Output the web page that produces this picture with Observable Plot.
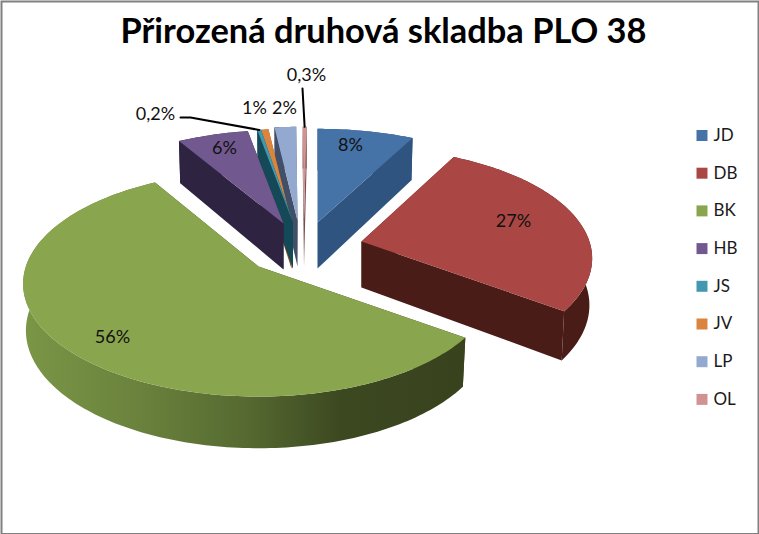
<!DOCTYPE html>
<html><head><meta charset="utf-8">
<script src="https://cdn.jsdelivr.net/npm/d3@7"></script>
<script src="https://cdn.jsdelivr.net/npm/@observablehq/plot@0.6"></script>
<style>html,body{margin:0;padding:0;background:#fff}svg{display:block}</style>
</head><body><div id="chart"></div>
<script>
// Data
const chartTitle = "Přirozená druhová skladba PLO 38";
const species = ["JD","DB","BK","HB","JS","JV","LP","OL"];
const shares = [7.6,27.4,56.6,5.6,0.3,0.7,1.7,0.3];
const shareLabels = ["8%","27%","56%","6%","0,2%","1%","2%","0,3%"];

// Styles
const topColors = ["#4572A7","#AA4643","#89A54E","#71588F","#4198AF","#DB843D","#93A9CF","#D19392"];
const wallColors = ["#2f5480","#4a1c18","#38431e","#2e2340","#144a57","#8a4e1f","#414f68","#7a4c4c"];

// Layout: where each exploded slice's tip sits, and how the disc is projected
const tipX = [317,361,258,283,292.5,291,297,303.5];
const tipY = [222,241,266,223,222,222,220,220];
const stretchX = [1,0.97,0.99,1,1,1,1,1];
const stretchY = [1,1,1.02,1,1,1,1,1];
const labelDx = [33,152,-146,-59,-137.5,-37,-13,2.5];
const labelDy = [-77,-20,71,-75,-108,-114,-112,-145];
const RX = 235, RY = 108, PERSP = 0.153, DEPTH = 46;
const drawOrder = [7,6,5,4,3,0,1,2];

let cum = 0;
const slices = species.map((name,i)=>{
  const a0 = cum/100*2*Math.PI; cum += shares[i];
  const a1 = cum/100*2*Math.PI;
  return {name,i,a0,a1,mid:(a0+a1)/2,ax:tipX[i],ay:tipY[i],sx:stretchX[i],sy:stretchY[i]};
});
function project(s,theta,r,z){
  const Y = r*Math.cos(theta), X = r*Math.sin(theta);
  const k = 1/(1+PERSP*Y);
  return {x:s.ax+s.sx*RX*X*k*(1-0.012*z), y:s.ay-s.sy*RY*Y*k+DEPTH*z*Math.pow(k,0.7)};
}
function arc(s,z){
  const n = Math.max(2,Math.ceil((s.a1-s.a0)/0.02));
  return d3.range(n+1).map(j=>project(s,s.a0+(s.a1-s.a0)*j/n,1,z));
}
const poly = (pts,fill)=>Plot.line(pts,{x:"x",y:"y",fill,stroke:"none",curve:"linear-closed"});

const gradient = () => {
  const ns="http://www.w3.org/2000/svg";
  const defs=document.createElementNS(ns,"defs");
  const g=document.createElementNS(ns,"linearGradient");
  g.setAttribute("id","rimBK");
  [[0,"#7a9646"],[.25,"#6b833d"],[.5,"#566a31"],[.72,"#3c4820"],[1,"#38431e"]].forEach(([o,c])=>{
    const st=document.createElementNS(ns,"stop");
    st.setAttribute("offset",o);st.setAttribute("stop-color",c);g.appendChild(st);
  });
  defs.appendChild(g);return defs;
};

const sliceMarks = drawOrder.flatMap(i=>{
  const s=slices[i], wall=wallColors[i];
  const t=arc(s,0), b=arc(s,1);
  const tip0=project(s,0,0,0), tip1=project(s,0,0,1);
  return [
    poly([tip0,t[0],b[0],tip1],wall),
    poly([tip0,t[t.length-1],b[b.length-1],tip1],wall),
    poly([...t,...b.slice().reverse()],i===2?"url(#rimBK)":wall),
    poly([tip0,...t],topColors[i])
  ];
});

const labels = slices.map((s,i)=>({text:shareLabels[i],x:s.ax+labelDx[i],y:s.ay+labelDy[i]}));
const leaderJS = [
  {x:labels[4].x+25,y:labels[4].y+3},
  {x:labels[4].x+35,y:labels[4].y+3},
  project(slices[4],slices[4].mid,1,0)
];
const leaderOL = [
  {x:labels[7].x-4,y:labels[7].y+13},
  project(slices[7],slices[7].mid,1,0)
];
const legend = species.map((name,i)=>({name,row:i}));
const legendY = d=>135+d.row*37.7;

const plot = Plot.plot({
  width:759,height:534,margin:0,
  x:{type:"identity",axis:null},y:{type:"identity",axis:null},
  color:{domain:species,range:topColors},
  style:{fontFamily:"Lato, Carlito, sans-serif",background:"#fff",color:"#000"},
  marks:[
    gradient,
    ...sliceMarks,
    Plot.line(leaderJS,{x:"x",y:"y",stroke:"#000",strokeWidth:2}),
    Plot.line(leaderOL,{x:"x",y:"y",stroke:"#000",strokeWidth:2}),
    Plot.text(labels,{x:"x",y:"y",text:"text",fontSize:18,fill:"#111"}),
    Plot.dot(legend,{x:()=>701.5,y:legendY,fill:"name",symbol:"square",r:6.2}),
    Plot.text(legend,{x:()=>713,y:legendY,text:"name",textAnchor:"start",fontSize:17,fill:"#1a1a1a"}),
    Plot.text([chartTitle],{x:()=>383,y:()=>31,text:d=>d,fontSize:34.4,fontWeight:700,fill:"#000"}),
    Plot.frame({stroke:"#808080",strokeWidth:2,insetTop:1,insetLeft:1,insetRight:1,insetBottom:0.5})
  ]
});
document.getElementById("chart").appendChild(plot);
</script></body></html>
